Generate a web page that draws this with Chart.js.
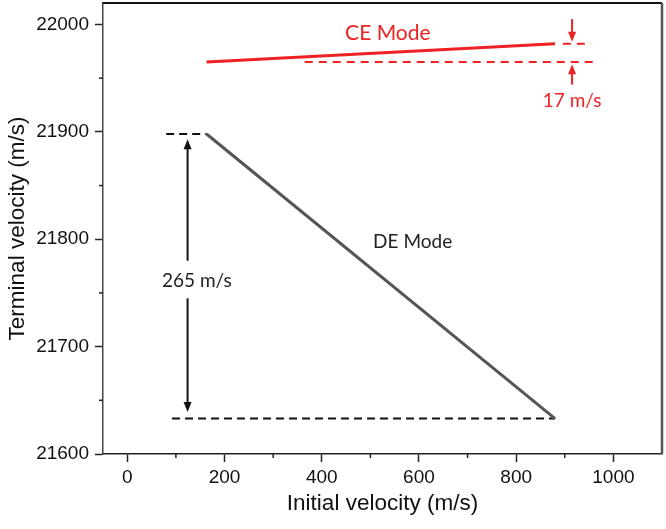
<!DOCTYPE html>
<html>
<head>
<meta charset="utf-8">
<script src="https://cdn.jsdelivr.net/npm/chart.js@4/dist/chart.umd.min.js"></script>
<style>html,body{margin:0;padding:0;background:#fff}</style>
</head>
<body>
<canvas id="velChart" width="666" height="529"></canvas>
<script>
// main lines (initial velocity -> terminal velocity)
const initialVel = [163, 880];
const deTerminal = [21898, 21633];
const ceTerminal = [21965, 21982];

// dashed reference lines
const deTopDashX = [80, 163];
const deBotDashX = [92, 880];
const ceLowDashX = [365, 965];
const ceHighDashX = [896, 954];

// ticks
const xTicks = [0, 200, 400, 600, 800, 1000];
const xMinor = [100, 300, 500, 700, 900];
const yTicks = [21600, 21700, 21800, 21900, 22000];
const yMinor = [21650, 21750, 21850, 21950];

// arrows + labels
const deArrowX = 124;
const deArrowTips = [21893, 21639];
const deGap = [21780, 21745];
const ceArrowX = 915;
const ceArrowTop = [22005, 21984];
const ceArrowBottom = [21944, 21963];
const noteText = ['CE Mode', '17 m/s', 'DE Mode', '265 m/s'];
const noteX = [536, 915, 587, 143];
const noteY = [21992, 21929, 21798, 21761];
const noteColor = ['#ee2222', '#ee2222', '#222222', '#222222'];
const noteSize = [21, 19, 19, 19];

const RED = '#ee2222';

function pts(xs, ys) {
  return xs.map((x, i) => ({x: x, y: ys[i]}));
}

function arrow(ctx, x, yFrom, yTo, color) {
  const dir = yTo > yFrom ? 1 : -1;
  ctx.strokeStyle = color;
  ctx.fillStyle = color;
  ctx.lineWidth = 2;
  ctx.beginPath();
  ctx.moveTo(x, yFrom);
  ctx.lineTo(x, yTo - dir * 6);
  ctx.stroke();
  ctx.beginPath();
  ctx.moveTo(x, yTo);
  ctx.lineTo(x - 4, yTo - dir * 10);
  ctx.lineTo(x + 4, yTo - dir * 10);
  ctx.closePath();
  ctx.fill();
}

const annotate = {
  id: 'annotate',
  afterDraw(chart) {
    const ctx = chart.ctx;
    const xs = chart.scales.x, ys = chart.scales.y;
    const area = chart.chartArea;
    ctx.save();

    // frame top / right
    ctx.strokeStyle = '#111';
    ctx.lineWidth = 2;
    ctx.beginPath();
    ctx.moveTo(area.left, area.top);
    ctx.lineTo(area.right, area.top);
    ctx.stroke();
    ctx.strokeStyle = '#555';
    ctx.lineWidth = 2.5;
    ctx.beginPath();
    ctx.moveTo(area.right, area.top);
    ctx.lineTo(area.right, area.bottom);
    ctx.stroke();

    // minor ticks
    ctx.lineWidth = 1.5;
    ctx.strokeStyle = '#222';
    xMinor.forEach(v => {
      const px = xs.getPixelForValue(v);
      ctx.beginPath();
      ctx.moveTo(px, area.bottom);
      ctx.lineTo(px, area.bottom + 4);
      ctx.stroke();
    });
    yMinor.forEach(v => {
      const py = ys.getPixelForValue(v);
      ctx.beginPath();
      ctx.moveTo(area.left - 4, py);
      ctx.lineTo(area.left, py);
      ctx.stroke();
    });

    // arrows
    const dx = xs.getPixelForValue(deArrowX);
    arrow(ctx, dx, ys.getPixelForValue(deGap[0]), ys.getPixelForValue(deArrowTips[0]), '#111');
    arrow(ctx, dx, ys.getPixelForValue(deGap[1]), ys.getPixelForValue(deArrowTips[1]), '#111');
    const cx = xs.getPixelForValue(ceArrowX);
    arrow(ctx, cx, ys.getPixelForValue(ceArrowTop[0]), ys.getPixelForValue(ceArrowTop[1]), RED);
    arrow(ctx, cx, ys.getPixelForValue(ceArrowBottom[0]), ys.getPixelForValue(ceArrowBottom[1]), RED);

    // labels
    ctx.textAlign = 'center';
    ctx.textBaseline = 'middle';
    noteText.forEach((t, i) => {
      ctx.font = noteSize[i] + 'px Lato';
      ctx.fillStyle = noteColor[i];
      ctx.fillText(t, xs.getPixelForValue(noteX[i]), ys.getPixelForValue(noteY[i]));
    });
    ctx.restore();
  }
};

const tickFont = {family: 'Liberation Sans, Arial', size: 19};
const titleFont = {family: 'Liberation Sans, Arial', size: 22.5};

new Chart(document.getElementById('velChart').getContext('2d'), {
  type: 'scatter',
  data: {
    datasets: [
      {data: pts(initialVel, deTerminal), showLine: true, borderColor: '#555555', borderWidth: 3, pointRadius: 0},
      {data: pts(initialVel, ceTerminal), showLine: true, borderColor: RED, borderWidth: 3, pointRadius: 0},
      {data: pts(deTopDashX, [deTerminal[0], deTerminal[0]]), showLine: true, borderColor: '#111', borderWidth: 2, borderDash: [8, 5], pointRadius: 0},
      {data: pts(deBotDashX, [deTerminal[1], deTerminal[1]]), showLine: true, borderColor: '#111', borderWidth: 2, borderDash: [8, 5], pointRadius: 0},
      {data: pts(ceLowDashX, [ceTerminal[0], ceTerminal[0]]), showLine: true, borderColor: RED, borderWidth: 2, borderDash: [8, 6], pointRadius: 0},
      {data: pts(ceHighDashX, [ceTerminal[1], ceTerminal[1]]), showLine: true, borderColor: RED, borderWidth: 2, borderDash: [8, 6], pointRadius: 0}
    ]
  },
  options: {
    responsive: false,
    animation: false,
    devicePixelRatio: 1,
    layout: {padding: {top: 3, right: 4, left: 0, bottom: 0}},
    plugins: {legend: {display: false}, tooltip: {enabled: false}},
    scales: {
      x: {
        type: 'linear', min: -50, max: 1100,
        afterBuildTicks: s => { s.ticks = xTicks.map(v => ({value: v})); },
        afterFit: s => { s.height = 75; s.paddingLeft = 0; s.paddingRight = 0; },
        grid: {drawOnChartArea: false, tickLength: 8, color: '#222', tickWidth: 1.5},
        border: {color: '#222', width: 1.5},
        ticks: {font: tickFont, color: '#111', padding: 4, maxRotation: 0, callback: v => String(v)},
        title: {display: true, text: 'Initial velocity (m/s)', font: titleFont, color: '#111', padding: {top: 0, bottom: 12}}
      },
      y: {
        type: 'linear', min: 21600, max: 22020,
        afterBuildTicks: s => { s.ticks = yTicks.map(v => ({value: v})); },
        afterFit: s => { s.width = 103; s.paddingTop = 0; s.paddingBottom = 0; },
        grid: {drawOnChartArea: false, tickLength: 8, color: '#222', tickWidth: 1.5},
        border: {color: '#444', width: 1.5},
        ticks: {font: tickFont, color: '#111', padding: 6, callback: v => String(v)},
        title: {display: true, text: 'Terminal velocity (m/s)', font: titleFont, color: '#111', padding: {top: 4, bottom: 0}}
      }
    }
  },
  plugins: [annotate]
});
</script>
</body>
</html>
